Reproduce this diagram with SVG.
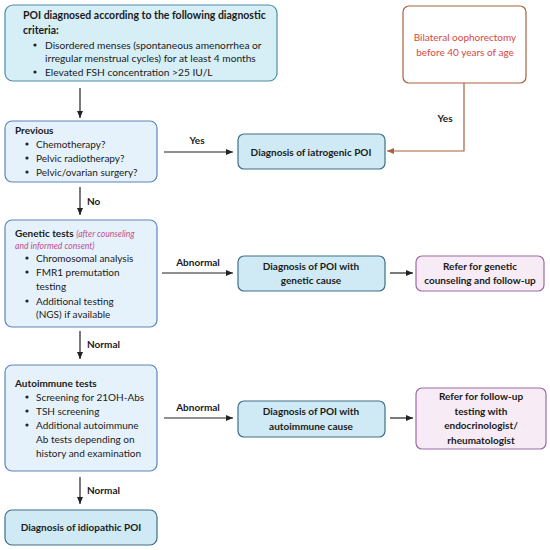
<svg xmlns="http://www.w3.org/2000/svg" width="550" height="550" viewBox="0 0 550 550">
<defs>
<marker id="ah" markerWidth="8" markerHeight="8" refX="7" refY="4" orient="auto" markerUnits="userSpaceOnUse">
<path d="M0,1 L7,4 L0,7 z" fill="#222"/>
</marker>
<marker id="ahb" markerWidth="8" markerHeight="8" refX="7" refY="4" orient="auto" markerUnits="userSpaceOnUse">
<path d="M0,1 L7,4 L0,7 z" fill="#a8623f"/>
</marker>
<style>
text{font-family:Lato,"Open Sans","Liberation Sans",sans-serif;font-size:10px;fill:#1a1a1a}
.b{font-weight:bold}
.c{text-anchor:middle}
.h{font-size:10.5px}
.t{font-size:10.2px}
.crit{fill:#d6eff7;stroke:#4f8ca6;stroke-width:1.2}
.step{fill:#e6f2fb;stroke:#5b86b8;stroke-width:1.2}
.dx{fill:#cfeaf4;stroke:#3f6f88;stroke-width:1.2}
.ref{fill:#f7ecf6;stroke:#9a6aa8;stroke-width:1.2}
.bil{fill:#ffffff;stroke:#a8623f;stroke-width:1.2}
.red{fill:#d9473f}
.pink{fill:#c0508f;font-style:italic;font-size:8.6px}
.ln{stroke:#222;stroke-width:1.2;fill:none;marker-end:url(#ah)}
.lnb{stroke:#a8623f;stroke-width:1.2;fill:none;marker-end:url(#ahb)}
</style>
</defs>

<g id="connectors">
<line class="ln" x1="80" y1="88" x2="80" y2="118"/>
<line class="ln" x1="80" y1="187" x2="80" y2="215"/>
<text x="87" y="205" class="b">No</text>
<line class="ln" x1="164" y1="152" x2="233" y2="152"/>
<text x="197" y="144" class="b c">Yes</text>
<path class="lnb" d="M464,83 V151 H387"/>
<text x="445" y="122" class="b c">Yes</text>
<line class="ln" x1="162" y1="273" x2="233" y2="273"/>
<text x="198" y="266" class="b c">Abnormal</text>
<line class="ln" x1="390" y1="273" x2="413" y2="273"/>
<line class="ln" x1="80" y1="331" x2="80" y2="359"/>
<text x="87" y="348" class="b">Normal</text>
<line class="ln" x1="164" y1="418" x2="233" y2="418"/>
<text x="198" y="411" class="b c">Abnormal</text>
<line class="ln" x1="390" y1="418" x2="413" y2="418"/>
<line class="ln" x1="80" y1="477" x2="80" y2="504"/>
<text x="87" y="494" class="b">Normal</text>
</g>

<g id="criteria">
<rect class="crit" x="5" y="5" width="272" height="76" rx="8"/>
<text x="23" y="19" class="b h">POI diagnosed according to the following diagnostic</text>
<text x="23" y="34" class="b h">criteria:</text>
<circle cx="35" cy="45" r="1.6" fill="#222"/>
<text x="45" y="49" class="t">Disordered menses (spontaneous amenorrhea or</text>
<text x="45" y="62" class="t">irregular menstrual cycles) for at least 4 months</text>
<circle cx="35" cy="72" r="1.6" fill="#222"/>
<text x="45" y="76" class="t">Elevated FSH concentration &gt;25 IU/L</text>
</g>

<g id="bilateral">
<rect class="bil" x="403" y="6" width="123" height="77" rx="6"/>
<text x="465" y="41" class="c red">Bilateral oophorectomy</text>
<text x="465" y="56" class="c red">before 40 years of age</text>
</g>

<g id="previous">
<rect class="step" x="5" y="121" width="152" height="61" rx="7"/>
<text x="15" y="134" class="b">Previous</text>
<circle cx="27" cy="144" r="1.6" fill="#222"/>
<text x="36" y="147.5">Chemotherapy?</text>
<circle cx="27" cy="158" r="1.6" fill="#222"/>
<text x="36" y="161.5">Pelvic radiotherapy?</text>
<circle cx="27" cy="172" r="1.6" fill="#222"/>
<text x="36" y="175.5">Pelvic/ovarian surgery?</text>
</g>

<g id="iatrogenic">
<rect class="dx" x="238" y="134" width="147" height="35" rx="6"/>
<text x="311" y="155.5" class="b c">Diagnosis of iatrogenic POI</text>
</g>

<g id="genetic">
<rect class="step" x="5" y="220" width="152" height="107" rx="7"/>
<text x="15" y="236.5"><tspan class="b">Genetic tests </tspan><tspan class="pink">(after counseling</tspan></text>
<text x="15" y="249" class="pink">and informed consent)</text>
<circle cx="27" cy="258" r="1.6" fill="#222"/>
<text x="36" y="261.5">Chromosomal analysis</text>
<circle cx="27" cy="272" r="1.6" fill="#222"/>
<text x="36" y="275.5">FMR1 premutation</text>
<text x="36" y="289.5">testing</text>
<circle cx="27" cy="301" r="1.6" fill="#222"/>
<text x="36" y="304.5">Additional testing</text>
<text x="36" y="318">(NGS) if available</text>
</g>

<g id="genetic-dx">
<rect class="dx" x="238" y="256" width="147" height="35" rx="6"/>
<text x="311" y="269.5" class="b c">Diagnosis of POI with</text>
<text x="311" y="284" class="b c">genetic cause</text>
</g>

<g id="genetic-ref">
<rect class="ref" x="416" y="256" width="128" height="35" rx="6"/>
<text x="480" y="269.5" class="b c">Refer for genetic</text>
<text x="480" y="284" class="b c">counseling and follow-up</text>
</g>

<g id="autoimmune">
<rect class="step" x="5" y="365" width="152" height="106" rx="7"/>
<text x="15" y="386.5" class="b">Autoimmune tests</text>
<circle cx="27" cy="397" r="1.6" fill="#222"/>
<text x="36" y="400.5">Screening for 21OH-Abs</text>
<circle cx="27" cy="411" r="1.6" fill="#222"/>
<text x="36" y="414.5">TSH screening</text>
<circle cx="27" cy="425" r="1.6" fill="#222"/>
<text x="36" y="428.5">Additional autoimmune</text>
<text x="36" y="443">Ab tests depending on</text>
<text x="36" y="457">history and examination</text>
</g>

<g id="autoimmune-dx">
<rect class="dx" x="238" y="401" width="147" height="36" rx="6"/>
<text x="311" y="415" class="b c">Diagnosis of POI with</text>
<text x="311" y="429.5" class="b c">autoimmune cause</text>
</g>

<g id="autoimmune-ref">
<rect class="ref" x="416" y="388" width="130" height="61" rx="6"/>
<text x="481" y="400" class="b c">Refer for follow-up</text>
<text x="481" y="414.5" class="b c">testing with</text>
<text x="481" y="429" class="b c">endocrinologist/</text>
<text x="481" y="443.5" class="b c">rheumatologist</text>
</g>

<g id="idiopathic">
<rect class="dx" x="5" y="510" width="152" height="35" rx="7"/>
<text x="81" y="530.5" class="b c">Diagnosis of idiopathic POI</text>
</g>
</svg>
